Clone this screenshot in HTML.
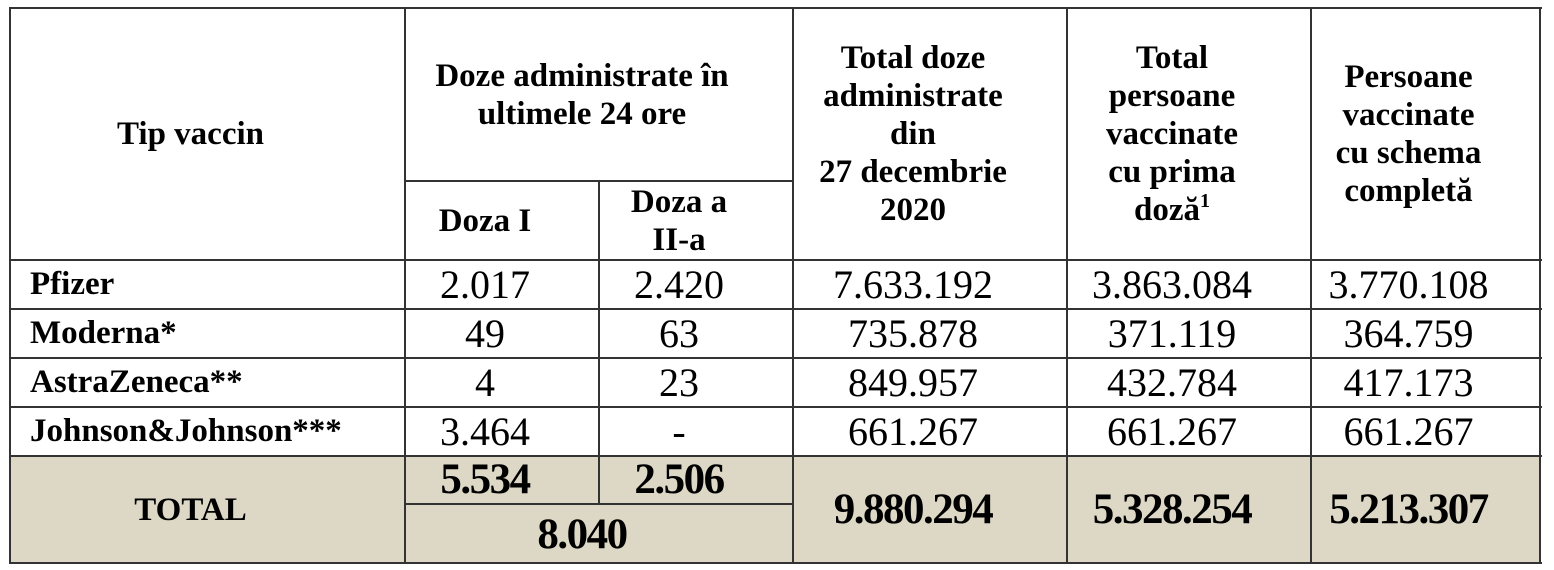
<!DOCTYPE html>
<html><head><meta charset="utf-8"><style>
body{margin:0;width:1554px;height:570px;background:#fff;position:relative;overflow:hidden;font-family:"Liberation Serif",serif;color:#000}
.c{position:absolute;display:flex;align-items:center;justify-content:center;text-align:center;box-sizing:border-box;padding-right:34px}
.h{font-weight:bold;font-size:33px;line-height:38px}
.n{font-size:40px}
.l{justify-content:flex-start;padding-left:20px;padding-right:0;font-weight:bold;font-size:33px}
.t{font-weight:bold;font-size:43px;letter-spacing:-1.5px}
.bg{position:absolute;background:#ddd8c5}
.hl{position:absolute;height:2px;background:#333}
.vl{position:absolute;width:2px;background:#333}
</style></head><body>
<div class="bg" style="left:10px;top:456px;width:1530px;height:107px"></div>

<div class="c h" style="left:10px;top:8px;width:395px;height:252px"><div>Tip vaccin</div></div>
<div class="c h" style="left:405px;top:8px;width:388px;height:173px"><div>Doze administrate în<br>ultimele 24 ore</div></div>
<div class="c h" style="left:405px;top:181px;width:194px;height:79px"><div>Doza I</div></div>
<div class="c h" style="left:599px;top:181px;width:194px;height:79px"><div>Doza a<br>II-a</div></div>
<div class="c h" style="left:793px;top:8px;width:274px;height:252px"><div>Total doze<br>administrate<br>din<br>27 decembrie<br>2020</div></div>
<div class="c h" style="left:1067px;top:8px;width:244px;height:252px"><div>Total<br>persoane<br>vaccinate<br>cu prima<br>doză<span style="font-size:20px;vertical-align:top;line-height:20px">1</span></div></div>
<div class="c h" style="left:1311px;top:8px;width:229px;height:252px"><div>Persoane<br>vaccinate<br>cu schema<br>completă</div></div>

<div class="c l" style="left:10px;top:260px;width:395px;height:49px">Pfizer</div>
<div class="c n" style="left:405px;top:260px;width:194px;height:49px">2.017</div>
<div class="c n" style="left:599px;top:260px;width:194px;height:49px">2.420</div>
<div class="c n" style="left:793px;top:260px;width:274px;height:49px">7.633.192</div>
<div class="c n" style="left:1067px;top:260px;width:244px;height:49px">3.863.084</div>
<div class="c n" style="left:1311px;top:260px;width:229px;height:49px">3.770.108</div>

<div class="c l" style="left:10px;top:309px;width:395px;height:49px">Moderna*</div>
<div class="c n" style="left:405px;top:309px;width:194px;height:49px">49</div>
<div class="c n" style="left:599px;top:309px;width:194px;height:49px">63</div>
<div class="c n" style="left:793px;top:309px;width:274px;height:49px">735.878</div>
<div class="c n" style="left:1067px;top:309px;width:244px;height:49px">371.119</div>
<div class="c n" style="left:1311px;top:309px;width:229px;height:49px">364.759</div>

<div class="c l" style="left:10px;top:358px;width:395px;height:49px">AstraZeneca**</div>
<div class="c n" style="left:405px;top:358px;width:194px;height:49px">4</div>
<div class="c n" style="left:599px;top:358px;width:194px;height:49px">23</div>
<div class="c n" style="left:793px;top:358px;width:274px;height:49px">849.957</div>
<div class="c n" style="left:1067px;top:358px;width:244px;height:49px">432.784</div>
<div class="c n" style="left:1311px;top:358px;width:229px;height:49px">417.173</div>

<div class="c l" style="left:10px;top:407px;width:395px;height:49px">Johnson&amp;Johnson***</div>
<div class="c n" style="left:405px;top:407px;width:194px;height:49px">3.464</div>
<div class="c n" style="left:599px;top:407px;width:194px;height:49px">-</div>
<div class="c n" style="left:793px;top:407px;width:274px;height:49px">661.267</div>
<div class="c n" style="left:1067px;top:407px;width:244px;height:49px">661.267</div>
<div class="c n" style="left:1311px;top:407px;width:229px;height:49px">661.267</div>

<div class="c h" style="left:10px;top:456px;width:395px;height:107px">TOTAL</div>
<div class="c t" style="left:405px;top:456px;width:194px;height:46px">5.534</div>
<div class="c t" style="left:599px;top:456px;width:194px;height:46px">2.506</div>
<div class="c t" style="left:405px;top:505px;width:388px;height:58px">8.040</div>
<div class="c t" style="left:793px;top:456px;width:274px;height:107px">9.880.294</div>
<div class="c t" style="left:1067px;top:456px;width:244px;height:107px">5.328.254</div>
<div class="c t" style="left:1311px;top:456px;width:229px;height:107px">5.213.307</div>

<div class="hl" style="left:9px;top:7px;width:1533px"></div>
<div class="hl" style="left:405px;top:180px;width:388px"></div>
<div class="hl" style="left:9px;top:259px;width:1533px"></div>
<div class="hl" style="left:9px;top:308px;width:1533px"></div>
<div class="hl" style="left:9px;top:357px;width:1533px"></div>
<div class="hl" style="left:9px;top:406px;width:1533px"></div>
<div class="hl" style="left:9px;top:455px;width:1533px"></div>
<div class="hl" style="left:405px;top:503px;width:388px"></div>
<div class="hl" style="left:9px;top:562px;width:1533px"></div>

<div class="vl" style="left:9px;top:7px;height:557px"></div>
<div class="vl" style="left:404px;top:7px;height:557px"></div>
<div class="vl" style="left:598px;top:180px;height:325px"></div>
<div class="vl" style="left:792px;top:7px;height:557px"></div>
<div class="vl" style="left:1066px;top:7px;height:557px"></div>
<div class="vl" style="left:1310px;top:7px;height:557px"></div>
<div class="vl" style="left:1539px;top:7px;height:557px"></div>
</body></html>
